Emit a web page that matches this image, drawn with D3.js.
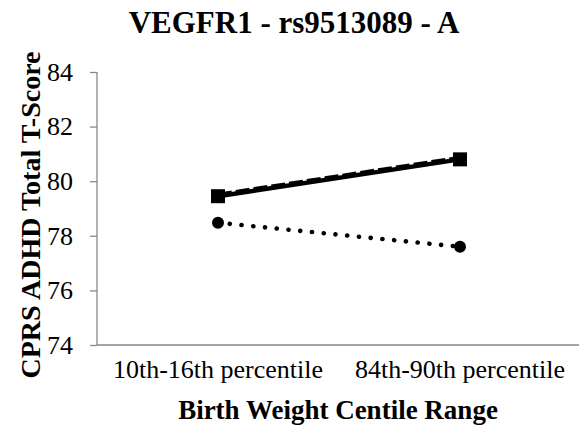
<!DOCTYPE html>
<html>
<head>
<meta charset="utf-8">
<script src="https://cdn.jsdelivr.net/npm/d3@7"></script>
<style>
  body { margin: 0; background: #fff; }
  text { font-family: "Liberation Serif", "Times New Roman", serif; fill: #000; }
</style>
</head>
<body>
<script>
var width = 579;
var height = 431;

// data
var categories = ["10th-16th percentile", "84th-90th percentile"];
var solidValues = [79.45, 80.8];
var dashedValues = [79.5, 80.85];
var dottedValues = [78.48, 77.6];
var yTicks = [74, 76, 78, 80, 82, 84];

var margin = {top: 72, right: -2, bottom: 86, left: 97};

var svg = d3.select("body").append("svg")
            .attr("width", width)
            .attr("height", height);

var x = d3.scaleBand()
          .domain(categories)
          .range([margin.left, width - margin.right]);

var y = d3.scaleLinear()
          .domain([74, 84])
          .range([height - margin.bottom, margin.top]);

// y axis
var yAxis = svg.append("g")
               .attr("transform", "translate(" + margin.left + ",0)")
               .call(d3.axisLeft(y).tickValues(yTicks).tickSize(7).tickPadding(17))
               .attr("font-family", null)
               .attr("font-size", null);
yAxis.selectAll("path, line").attr("stroke", "#898989").attr("stroke-width", 1.3);
yAxis.selectAll("text").style("font-size", "26px").attr("fill", "#000");
yAxis.select(".domain").attr("d", "M0," + y(84) + "V" + y(74));

// x axis (no tick marks)
var xAxis = svg.append("g")
               .attr("transform", "translate(0," + y(74) + ")")
               .call(d3.axisBottom(x).tickSize(0).tickPadding(15))
               .attr("font-family", null)
               .attr("font-size", null);
xAxis.select(".domain").attr("stroke", "#898989").attr("stroke-width", 1.3)
     .attr("d", "M" + margin.left + ",0H" + width);
xAxis.selectAll("text").style("font-size", "26px").attr("fill", "#000");

var cx = function(d, i) { return x(categories[i]) + x.bandwidth() / 2; };

var line = d3.line()
             .x(function(d, i) { return cx(d, i); })
             .y(function(d) { return y(d); });

// dashed series
svg.append("path")
   .datum(dashedValues)
   .attr("d", line)
   .attr("fill", "none")
   .attr("stroke", "#000")
   .attr("stroke-width", 4.5)
   .attr("stroke-dasharray", "14 4");

// solid series
svg.append("path")
   .datum(solidValues)
   .attr("d", line)
   .attr("fill", "none")
   .attr("stroke", "#000")
   .attr("stroke-width", 4.5);

svg.selectAll(".sq")
   .data(solidValues)
   .enter().append("rect")
   .attr("class", "sq")
   .attr("x", function(d, i) { return cx(d, i) - 7; })
   .attr("y", function(d) { return y(d) - 7; })
   .attr("width", 14)
   .attr("height", 14)
   .attr("fill", "#000");

// dotted series
svg.append("path")
   .datum(dottedValues)
   .attr("d", line)
   .attr("fill", "none")
   .attr("stroke", "#000")
   .attr("stroke-width", 4.6)
   .attr("stroke-linecap", "round")
   .attr("stroke-dasharray", "0.1 11.7");

svg.selectAll(".dot")
   .data(dottedValues)
   .enter().append("circle")
   .attr("class", "dot")
   .attr("cx", function(d, i) { return cx(d, i); })
   .attr("cy", function(d) { return y(d); })
   .attr("r", 6)
   .attr("fill", "#000");

// titles
svg.append("text")
   .attr("x", 294)
   .attr("y", 33)
   .attr("text-anchor", "middle")
   .style("font-size", "31px")
   .style("font-weight", "bold")
   .text("VEGFR1 - rs9513089 - A");

svg.append("text")
   .attr("x", 338)
   .attr("y", 419)
   .attr("text-anchor", "middle")
   .style("font-size", "27px")
   .style("font-weight", "bold")
   .text("Birth Weight Centile Range");

svg.append("text")
   .attr("transform", "translate(40,215) rotate(-90)")
   .attr("text-anchor", "middle")
   .style("font-size", "28px")
   .style("font-weight", "bold")
   .text("CPRS ADHD Total T-Score");
</script>
</body>
</html>
